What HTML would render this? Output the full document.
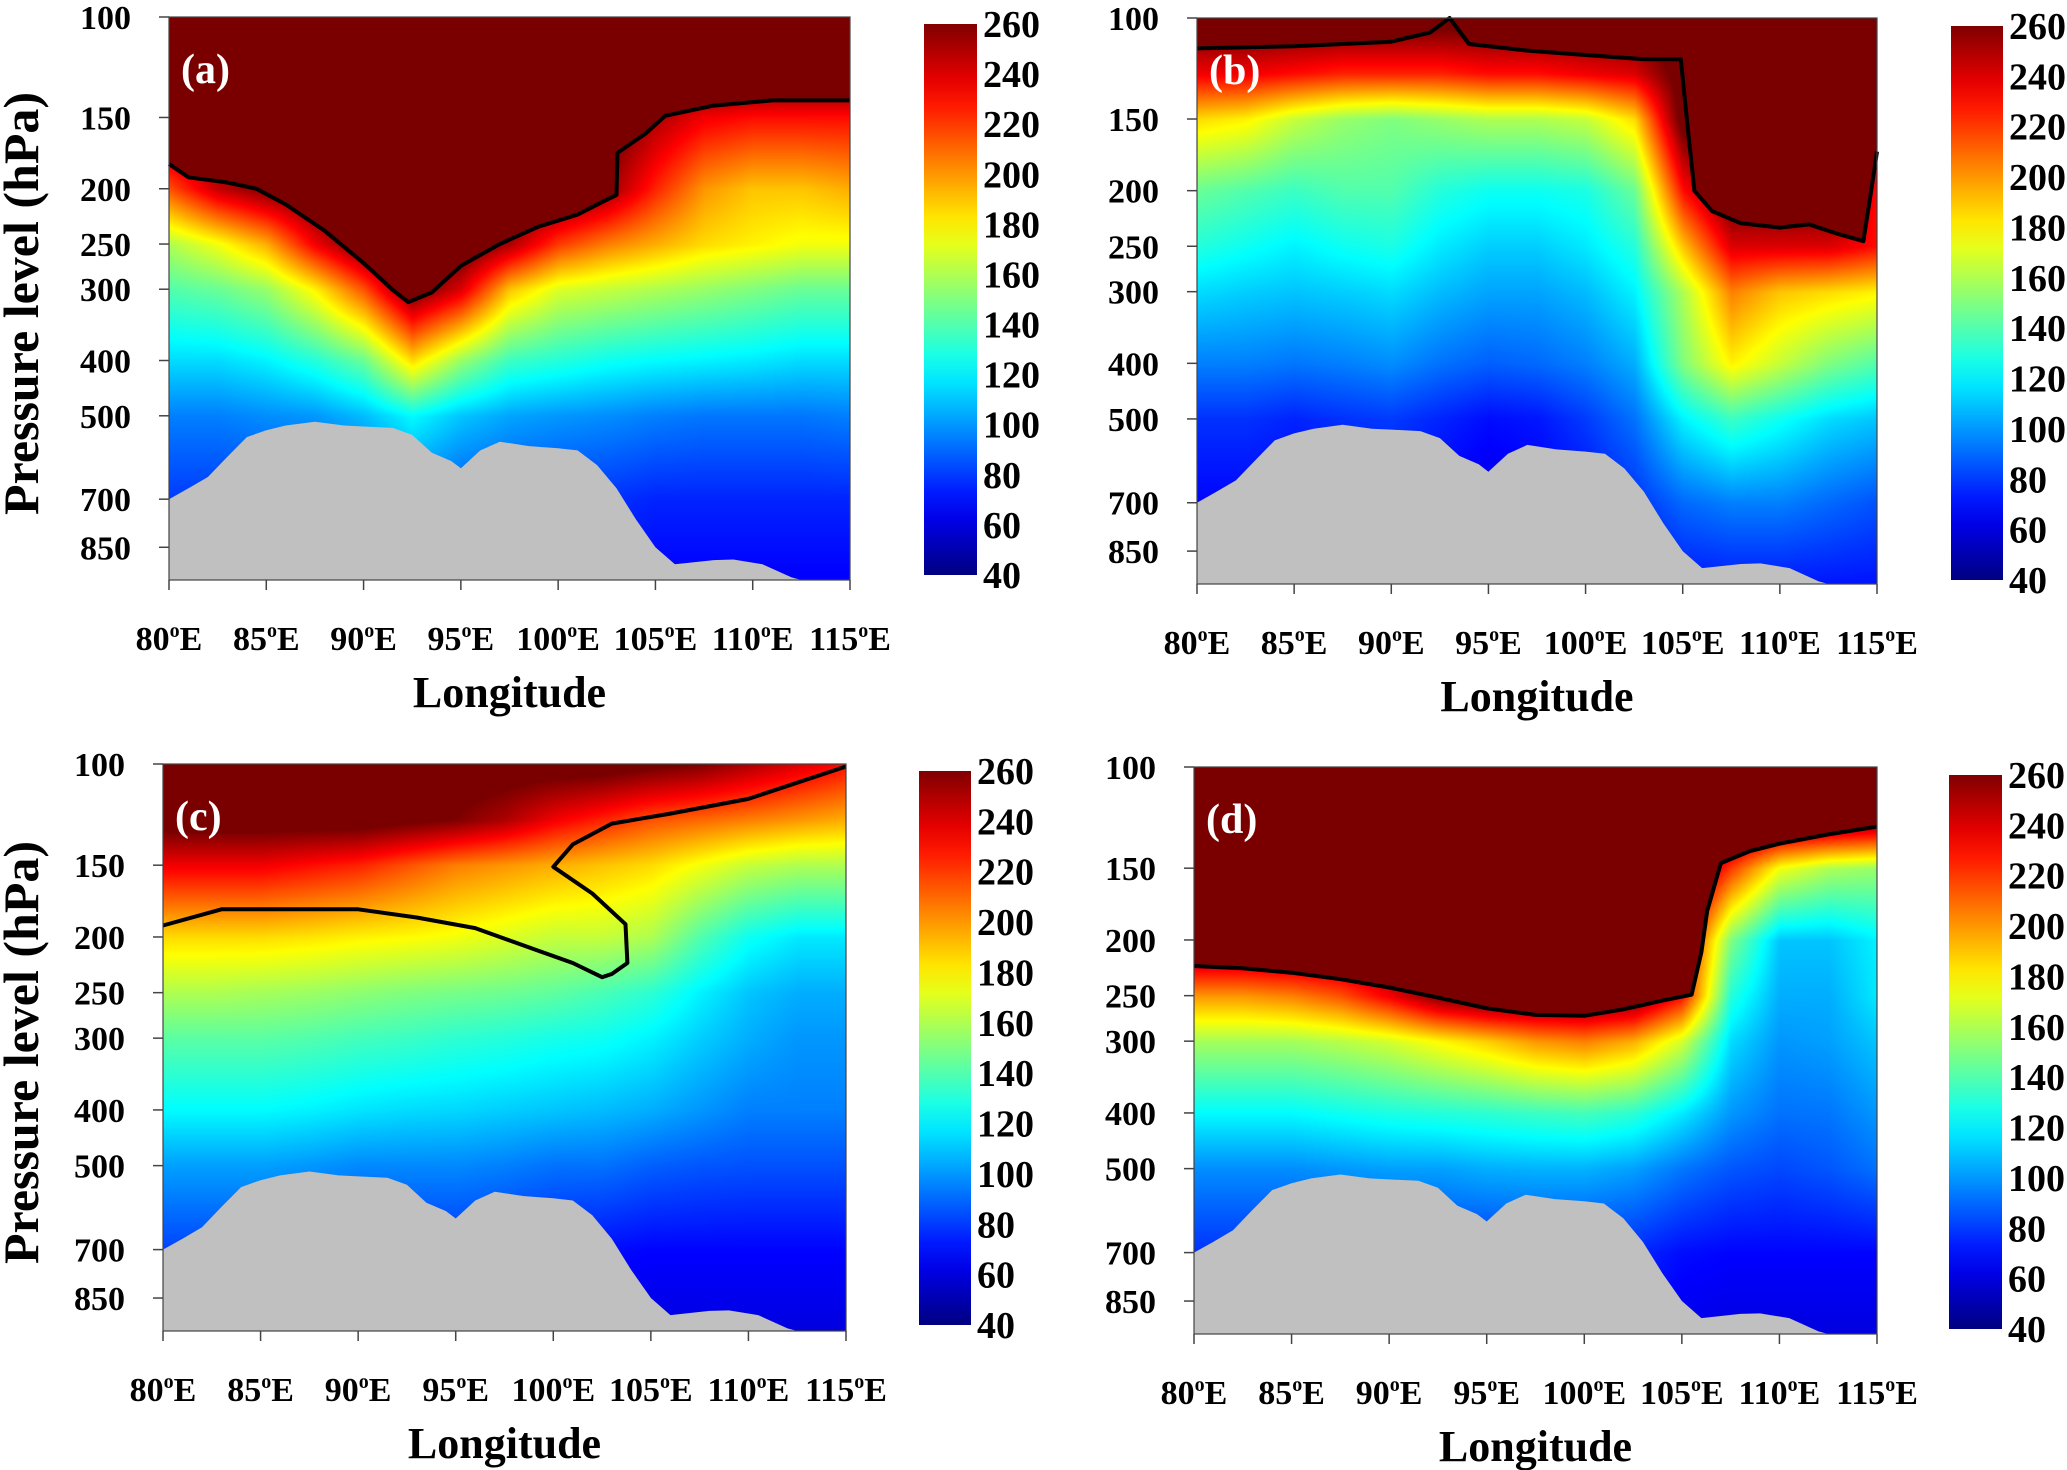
<!DOCTYPE html>
<html><head><meta charset="utf-8">
<style>
html,body{margin:0;padding:0;background:#fff;}
#wrap{position:relative;width:2067px;height:1470px;overflow:hidden;background:#fff;}
canvas{position:absolute;}
svg{position:absolute;left:0;top:0;}
text{font-family:"Liberation Serif",serif;font-weight:bold;fill:#000;}
</style></head>
<body>
<div id="wrap">
<svg id="ov" width="2067" height="1470"></svg>
</div>
<script>
// ---- data ----
const lons = [80,82.5,85,87.5,90,92.5,95,97.5,100,102.5,105,107.5,110,112.5,115];
const levels = [100,125,150,200,250,300,400,500,700,1000];
const xTickLabels = [80,85,90,95,100,105,110,115];
const yTickLabels = [100,150,200,250,300,400,500,700,850];
const cbTickLabels = [260,240,220,200,180,160,140,120,100,80,60,40];
const terrain = [[80,700],[81,670],[82,640],[83,590],[84,545],[85,530],[86,520],[87.5,512],[89,520],[90,522],[91.5,525],[92.5,540],[93.5,580],[94.5,600],[95,618],[96,575],[97,555],[98.5,565],[100,570],[101,575],[102,610],[103,670],[104,760],[105,850],[106,910],[108,895],[109,893],[110.5,910],[112,960],[112.5,975]];

const fieldA = [
[270,270,270,270,270,270,270,270,270,270,270,270,270,270,270],
[270,270,270,270,270,270,270,270,270,270,270,270,270,270,270],
[270,270,270,270,270,270,270,270,270,270,250,235,230,230,230],
[215,245,260,270,270,270,270,270,270,255,225,200,190,190,195],
[160,175,195,235,265,270,270,250,220,205,195,185,180,175,175],
[140,145,155,180,215,265,240,190,170,165,160,155,150,145,145],
[115,115,120,130,145,185,155,135,130,125,122,120,118,115,115],
[95,95,98,100,108,122,110,103,100,98,95,93,93,93,95],
[80,80,80,80,85,92,85,82,80,78,75,75,75,75,75],
[70,70,70,70,70,70,70,70,70,70,66,66,66,66,66]];
const lineA = [[80,181],[81,191],[83,195],[84.5,200],[86,213],[88,237],[90,270],[91.5,301],[92.3,316],[93.5,304],[95,273],[97,250],[99,233],[101,222],[102.5,209],[103,205],[103.05,173],[104.5,160],[105.5,149],[108,143],[111,140],[115,140]];

const fieldB = [
[270,270,270,270,270,270,270,270,270,270,270,270,270,270,270],
[235,235,230,225,225,225,230,230,235,240,270,270,270,270,270],
[185,180,165,155,150,155,160,160,165,185,270,270,270,270,250],
[145,140,135,140,140,130,125,125,128,145,230,270,270,270,230],
[130,125,120,125,128,118,112,112,118,130,190,240,240,240,230],
[115,112,110,112,115,108,103,103,108,120,160,205,190,185,180],
[95,95,93,95,98,92,88,90,95,105,150,180,165,150,140],
[78,78,75,78,80,75,70,72,80,92,120,135,125,115,110],
[68,68,66,68,70,66,62,65,70,78,90,95,95,90,85],
[60,60,60,60,60,60,60,60,60,65,70,70,70,70,70]];
const lineB = [[80,113],[85,112],[90,110],[92,106],[93,100],[94,111],[97,114],[100,116],[103,118],[104.9,118],[105.3,160],[105.6,200],[106.5,217],[108,228],[110,232],[111.5,229],[113,238],[114.3,245],[114.7,200],[115,171]];

const fieldC = [
[270,270,270,270,270,270,270,270,270,270,265,260,250,240,230],
[270,270,270,270,270,265,260,250,235,225,215,210,205,200,195],
[235,235,235,230,225,215,205,200,195,190,185,175,165,160,160],
[185,185,185,183,180,178,175,170,165,165,160,140,125,118,118],
[160,160,158,156,153,150,148,146,143,138,132,120,110,105,105],
[142,142,142,140,137,135,132,130,127,125,120,112,105,100,100],
[122,122,122,120,117,115,114,112,110,108,105,100,95,95,95],
[102,102,102,100,97,97,97,95,92,92,88,86,85,85,85],
[82,82,82,80,78,78,78,76,73,70,68,68,68,68,68],
[70,70,70,70,68,68,66,65,62,60,60,60,60,60,60]];
const lineC = [[80,191],[83,179],[87,179],[90,179],[93,185],[96,193],[99,210],[101,222],[102.5,235],[103,232],[103.8,222],[103.7,190],[102,168],[100,151],[101,138],[103,127],[106,122],[110,115],[115,101]];

const fieldD = [
[270,270,270,270,270,270,270,270,270,270,270,270,270,270,270],
[270,270,270,270,270,270,270,270,270,270,270,270,265,260,255],
[270,270,270,270,270,270,270,270,270,270,270,220,175,160,155],
[270,270,270,270,270,270,270,270,270,270,240,150,110,110,120],
[200,200,205,215,235,260,270,270,270,265,230,130,105,105,118],
[158,158,158,162,168,178,188,200,205,195,168,115,100,102,110],
[122,122,122,125,128,130,132,135,137,132,118,100,92,93,100],
[98,98,98,100,102,102,105,106,106,102,93,86,83,86,92],
[78,78,78,78,78,78,78,78,78,76,70,68,68,68,68],
[70,70,70,70,70,70,70,70,70,68,62,60,60,60,60]];
const lineD = [[80,222],[82.5,224],[85,228],[87.5,234],[90,242],[92.5,252],[95,263],[97.5,270],[100,271],[102,264],[104,255],[105.5,249],[106,210],[106.3,178],[107,147],[108.5,140],[110,136],[112.5,131],[115,127]];

const panels = [
 {id:'a',field:fieldA,line:lineA,fillTop:true,ytitle:true,plot:{x:169,y:17,w:681,h:563},cb:{x:924,y:24,w:53,h:551}},
 {id:'b',field:fieldB,line:lineB,fillTop:true,ytitle:false,plot:{x:1197,y:18,w:680,h:566},cb:{x:1951,y:26,w:52,h:554}},
 {id:'c',field:fieldC,line:lineC,fillTop:false,ytitle:true,plot:{x:163,y:764,w:683,h:567},cb:{x:919,y:771,w:52,h:554}},
 {id:'d',field:fieldD,line:lineD,fillTop:true,ytitle:false,plot:{x:1194,y:767,w:683,h:567},cb:{x:1949,y:775,w:53,h:554}}
];
const VMIN=40, VMAX=260, PTOP=100, PBOT=970;

function jet(v){
  let t=(v-VMIN)/(VMAX-VMIN); if(t<0)t=0; if(t>1)t=1;
  const c=x=>Math.max(0,Math.min(1,x));
  return [c(1.5-Math.abs(4*t-3))*255,c(1.5-Math.abs(4*t-2))*255,c(1.5-Math.abs(4*t-1))*255];
}
function xScale(P,lon){return P.plot.x+(lon-80)/35*P.plot.w;}
function yScale(P,p){return P.plot.y+Math.log(p/PTOP)/Math.log(PBOT/PTOP)*P.plot.h;}
function sample(field,lon,p){
  let i=(lon-80)/2.5; if(i<0)i=0; if(i>lons.length-1.0001)i=lons.length-1.0001;
  const i0=Math.floor(i), fi=i-i0;
  const lp=Math.log(p); let j=0;
  while(j<levels.length-2 && Math.log(levels[j+1])<lp) j++;
  let fj=(lp-Math.log(levels[j]))/(Math.log(levels[j+1])-Math.log(levels[j]));
  fj=Math.max(0,Math.min(1,fj));
  const a=field[j][i0]*(1-fi)+field[j][i0+1]*fi;
  const b=field[j+1][i0]*(1-fi)+field[j+1][i0+1]*fi;
  return a*(1-fj)+b*fj;
}
const NS='http://www.w3.org/2000/svg';
const ov=document.getElementById('ov');
const wrap=document.getElementById('wrap');
function mk(tag,attrs,parent){const e=document.createElementNS(NS,tag);for(const k in attrs)e.setAttribute(k,attrs[k]);(parent||ov).appendChild(e);return e;}

panels.forEach(P=>{
  const cv=document.createElement('canvas');
  
  
  cv.width=P.plot.w; cv.height=P.plot.h;
  cv.style.left=P.plot.x+'px'; cv.style.top=P.plot.y+'px';
  wrap.insertBefore(cv,ov);
  const ctx=cv.getContext('2d'); const img=ctx.createImageData(P.plot.w,P.plot.h);
  for(let py=0;py<P.plot.h;py++){
    const p=PTOP*Math.pow(PBOT/PTOP,py/P.plot.h);
    for(let px=0;px<P.plot.w;px++){
      const lon=80+35*px/P.plot.w;
      const v=sample(P.field,lon,p);
      const c=v>VMAX?[122,0,0]:jet(v);
      const k=(py*P.plot.w+px)*4;
      img.data[k]=c[0];img.data[k+1]=c[1];img.data[k+2]=c[2];img.data[k+3]=255;
    }
  }
  ctx.putImageData(img,0,0);

  const g=mk('g',{});
  
  
  if(P.fillTop){
    let d='M'+xScale(P,80)+','+P.plot.y;
    P.line.forEach(q=>{d+=' L'+xScale(P,q[0]).toFixed(1)+','+yScale(P,q[1]).toFixed(1);});
    d+=' L'+(P.plot.x+P.plot.w)+','+P.plot.y+' Z';
    const m=mk('path',{d:d,fill:'#7a0000'},g);
    
    
  }
  let td='M'+xScale(P,terrain[0][0])+','+(P.plot.y+P.plot.h);
  terrain.forEach(q=>{td+=' L'+xScale(P,q[0]).toFixed(1)+','+Math.min(yScale(P,q[1]),P.plot.y+P.plot.h).toFixed(1);});
  td+=' L'+xScale(P,terrain[terrain.length-1][0])+','+(P.plot.y+P.plot.h)+' Z';
  const tr=mk('path',{d:td,fill:'#c0c0c0'},g);
  
  
  const ld=P.line.map((q,i)=>(i?'L':'M')+xScale(P,q[0]).toFixed(1)+','+yScale(P,q[1]).toFixed(1)).join(' ');
  const bl=mk('path',{d:ld,fill:'none',stroke:'#000','stroke-width':4,'stroke-linejoin':'round'},g);
  
  
  const fr=mk('rect',{x:P.plot.x,y:P.plot.y,width:P.plot.w,height:P.plot.h,fill:'none',stroke:'#444','stroke-width':1.2},g);
  
  
  const pl=mk('text',{x:P.plot.x+12,y:P.plot.y+66,'font-size':42,style:'fill:#fff'},g);
  pl.textContent='('+P.id+')';
  
  
  yTickLabels.forEach(p=>{
    const y=yScale(P,p);
    const tk=mk('line',{x1:P.plot.x-10,x2:P.plot.x,y1:y,y2:y,stroke:'#444','stroke-width':1.5},g);
    
    
    const t=mk('text',{x:P.plot.x-38,y:y+12,'font-size':34,'text-anchor':'end'},g);
    t.textContent=p;
    
    
  });
  xTickLabels.forEach(lon=>{
    const x=xScale(P,lon);
    const tk=mk('line',{x1:x,x2:x,y1:P.plot.y+P.plot.h,y2:P.plot.y+P.plot.h+10,stroke:'#444','stroke-width':1.5},g);
    
    
    const t=mk('text',{x:x,y:P.plot.y+P.plot.h+70,'font-size':34,'text-anchor':'middle'},g);
    t.innerHTML=lon+'<tspan dy="-13" font-size="20">o</tspan><tspan dy="13">E</tspan>';
    
    
  });
  const xt=mk('text',{x:P.plot.x+P.plot.w/2,y:P.plot.y+P.plot.h+127,'font-size':44,'text-anchor':'middle'},g);
  xt.textContent='Longitude';
  
  
  if(P.ytitle){
    const cy=P.plot.y+P.plot.h/2+5;
    const yt=mk('text',{x:38,y:cy,'font-size':50,'text-anchor':'middle',transform:'rotate(-90 38 '+cy+')'},g);
    yt.textContent='Pressure level (hPa)';
    
    
  }
  const gid='cbg'+P.id;
  const defs=mk('defs',{},g);
  const lg=mk('linearGradient',{id:gid,x1:0,y1:1,x2:0,y2:0},defs);
  for(let s=0;s<=20;s++){
    const c=jet(VMIN+(VMAX-VMIN)*s/20);
    mk('stop',{offset:(s/20),'stop-color':'rgb('+c.map(Math.round).join(',')+')'},lg);
  }
  const cb=mk('rect',{x:P.cb.x,y:P.cb.y,width:P.cb.w,height:P.cb.h,fill:'url(#'+gid+')'},g);
  
  
  cbTickLabels.forEach((v,i)=>{
    const y=P.cb.y+(VMAX-v)/(VMAX-VMIN)*P.cb.h;
    const t=mk('text',{x:P.cb.x+P.cb.w+6,y:y+13,'font-size':38},g);
    t.textContent=v;
    
    
  });
});
</script>
</body></html>
